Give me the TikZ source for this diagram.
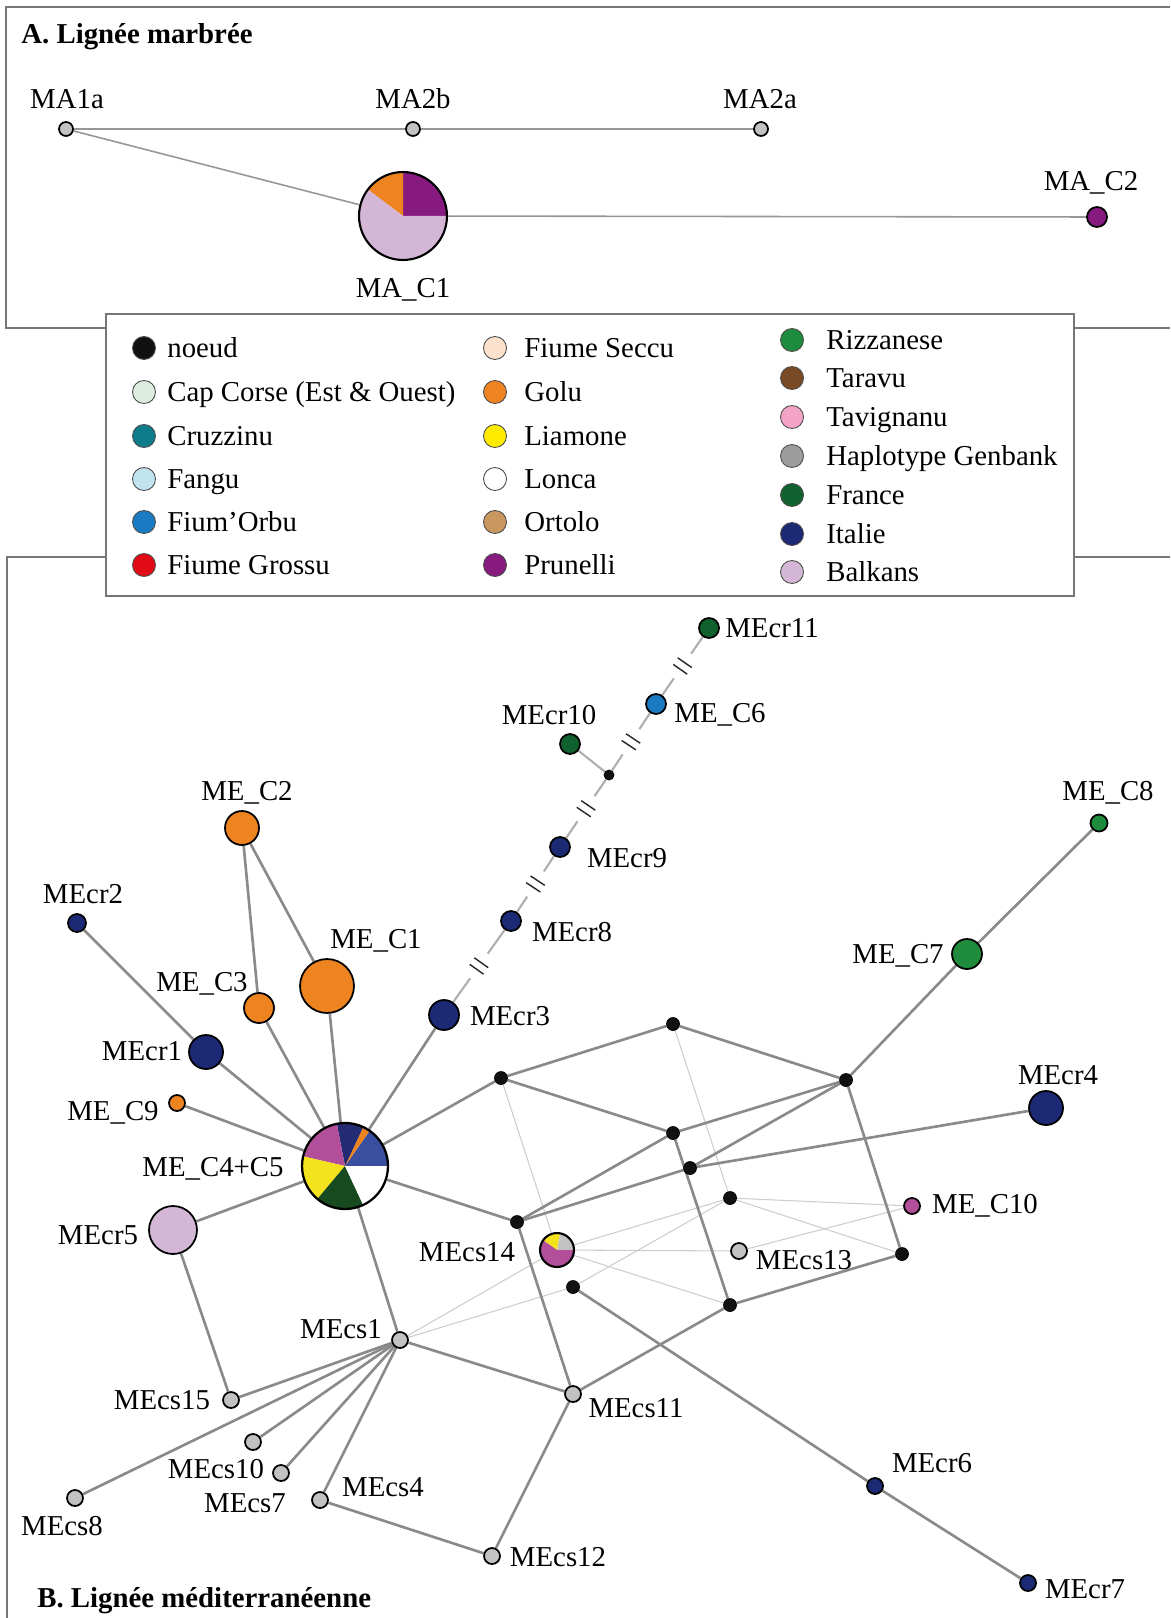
\documentclass[tikz,border=0pt]{standalone}
\usepackage{fontspec}
\setmainfont{Liberation Serif}
\usetikzlibrary{backgrounds,decorations.markings}

\definecolor{framegray}{HTML}{767676}
\definecolor{edgegray}{HTML}{8A8A8A}
\definecolor{lightedge}{HTML}{CDCDCD}
\definecolor{chaingray}{HTML}{AEAEAE}
\definecolor{hapgray}{HTML}{C2C2C2}
\definecolor{cnoeud}{HTML}{111111}
\definecolor{capcorse}{HTML}{DDEDDF}
\definecolor{cruzzinu}{HTML}{0E7C8A}
\definecolor{fangu}{HTML}{C2E4EF}
\definecolor{fiumorbu}{HTML}{1A7AC4}
\definecolor{grossu}{HTML}{E30A17}
\definecolor{seccu}{HTML}{FCE2CC}
\definecolor{golu}{HTML}{EE8420}
\definecolor{liamone}{HTML}{FFEA00}
\definecolor{ortolo}{HTML}{C9975F}
\definecolor{prunelli}{HTML}{861A7E}
\definecolor{rizzanese}{HTML}{1E8C3C}
\definecolor{taravu}{HTML}{7A4A24}
\definecolor{tavignanu}{HTML}{F2A3C6}
\definecolor{genbank}{HTML}{9C9C9C}
\definecolor{france}{HTML}{10612E}
\definecolor{italie}{HTML}{1C2A76}
\definecolor{balkans}{HTML}{D4B6D6}
\definecolor{piemag}{HTML}{B24E9A}
\definecolor{pieblue}{HTML}{3A4FA0}
\definecolor{pienavy}{HTML}{232C72}
\definecolor{pieyellow}{HTML}{F3E21C}
\definecolor{piegreen}{HTML}{174A1E}

\newcommand{\pieslice}[5]{\fill[#5] #1 -- ++(#3:#2) arc[start angle=#3, end angle=#4, radius=#2] -- cycle;}

\tikzset{
  hap/.style={circle, draw=black, line width=1pt, inner sep=0pt, minimum size=#1*0.04cm},
  med/.style={circle, draw=black, fill=cnoeud, inner sep=0pt, minimum size=0.26cm},
  legdot/.style={circle, draw=black!70, line width=0.5pt, inner sep=0pt, minimum size=0.46cm},
  legtxt/.style={anchor=west, inner sep=0pt, text height=10.9pt, text depth=0pt},
  lbl/.style={inner sep=0pt, text height=10.9pt, text depth=0pt},
  alink/.style={draw=edgegray!90, line width=0.9pt},
  link/.style={draw=edgegray, line width=1.5pt},
  faint/.style={draw=lightedge, line width=0.6pt},
  chain/.style={draw=chaingray, line width=1.2pt},
  cut/.style={postaction={decorate}, decoration={markings, mark=at position 0.5 with {
      \fill[white] (-0.3cm,-0.06cm) rectangle (0.3cm,0.06cm);
      \draw[black!85, line width=0.8pt] (-0.08cm,-0.17cm) -- (-0.08cm,0.17cm) (0.08cm,-0.17cm) -- (0.08cm,0.17cm);}}}
}

\begin{document}
\begin{tikzpicture}[x=0.02cm, y=-0.02cm, font=\fontsize{16.4}{19.7}\selectfont]
\useasboundingbox (0,0) rectangle (1170,1618);

% frames of the two panels
\draw[framegray, line width=0.8pt] (1170,7) -- (6,7) -- (6,328) -- (1170,328);
\draw[framegray, line width=0.8pt] (1170,557) -- (7,557) -- (7,1618);

% A. lignee marbree
\node[anchor=west, font=\fontsize{16.4}{19.7}\selectfont\bfseries, inner sep=0pt, text height=10.9pt, text depth=0pt] (titleA) at (21,34) {A. Lignée marbrée};
\node[hap=7, fill=hapgray] (ma1a) at (66,129) {};
\node[hap=7, fill=hapgray] (ma2b) at (413,129) {};
\node[hap=7, fill=hapgray] (ma2a) at (761,129) {};
\node[hap=10, fill=prunelli] (mac2) at (1097,217) {};
\pieslice{(403,216)}{0.88cm}{0}{90}{prunelli}
\pieslice{(403,216)}{0.88cm}{90}{143}{golu}
\pieslice{(403,216)}{0.88cm}{143}{360}{balkans}
\node[hap=44, line width=1.2pt] (mac1) at (403,216) {};
\node[lbl] (tma1a) at (67,99) {MA1a};
\node[lbl] (tma2b) at (413,99) {MA2b};
\node[lbl] (tma2a) at (760,99) {MA2a};
\node[lbl] (tmac2) at (1091,181) {MA\_C2};
\node[lbl] (tmac1) at (403,288) {MA\_C1};

% legend
\draw[framegray, fill=white, line width=0.8pt] (106,314) rectangle (1074,596);
\node[legdot, fill=cnoeud] (l1) at (144,348) {};
\node[legtxt] (lt1) at (167,348) {noeud};
\node[legdot, fill=capcorse] (l2) at (144,392) {};
\node[legtxt] (lt2) at (167,392) {Cap Corse (Est \& Ouest)};
\node[legdot, fill=cruzzinu] (l3) at (144,436) {};
\node[legtxt] (lt3) at (167,436) {Cruzzinu};
\node[legdot, fill=fangu] (l4) at (144,479) {};
\node[legtxt] (lt4) at (167,479) {Fangu};
\node[legdot, fill=fiumorbu] (l5) at (144,522) {};
\node[legtxt] (lt5) at (167,522) {Fium’Orbu};
\node[legdot, fill=grossu] (l6) at (144,565) {};
\node[legtxt] (lt6) at (167,565) {Fiume Grossu};
\node[legdot, fill=seccu] (l7) at (495,348) {};
\node[legtxt] (lt7) at (524,348) {Fiume Seccu};
\node[legdot, fill=golu] (l8) at (495,392) {};
\node[legtxt] (lt8) at (524,392) {Golu};
\node[legdot, fill=liamone] (l9) at (495,436) {};
\node[legtxt] (lt9) at (524,436) {Liamone};
\node[legdot, fill=white] (l10) at (495,479) {};
\node[legtxt] (lt10) at (524,479) {Lonca};
\node[legdot, fill=ortolo] (l11) at (495,522) {};
\node[legtxt] (lt11) at (524,522) {Ortolo};
\node[legdot, fill=prunelli] (l12) at (495,565) {};
\node[legtxt] (lt12) at (524,565) {Prunelli};
\node[legdot, fill=rizzanese] (l13) at (792,340) {};
\node[legtxt] (lt13) at (826,340) {Rizzanese};
\node[legdot, fill=taravu] (l14) at (792,378) {};
\node[legtxt] (lt14) at (826,378) {Taravu};
\node[legdot, fill=tavignanu] (l15) at (792,417) {};
\node[legtxt] (lt15) at (826,417) {Tavignanu};
\node[legdot, fill=genbank] (l16) at (792,456) {};
\node[legtxt] (lt16) at (826,456) {Haplotype Genbank};
\node[legdot, fill=france] (l17) at (792,495) {};
\node[legtxt] (lt17) at (826,495) {France};
\node[legdot, fill=italie] (l18) at (792,534) {};
\node[legtxt] (lt18) at (826,534) {Italie};
\node[legdot, fill=balkans] (l19) at (792,572) {};
\node[legtxt] (lt19) at (826,572) {Balkans};

% B. lignee mediterraneenne
\node[anchor=west, font=\fontsize{16.4}{19.7}\selectfont\bfseries, inner sep=0pt, text height=10.9pt, text depth=0pt] (titleB) at (37,1598) {B. Lignée méditerranéenne};

\node[hap=17, fill=golu] (mec2) at (242,828) {};
\node[hap=27, fill=golu] (mec1) at (327,986) {};
\node[hap=15, fill=golu] (mec3) at (259,1008) {};
\node[hap=8, fill=golu] (mec9) at (177,1103) {};
\node[hap=9, fill=italie] (mecr2) at (77,923) {};
\node[hap=17, fill=italie] (mecr1) at (206,1052) {};
\node[hap=15, fill=italie] (mecr3) at (444,1015) {};
\node[hap=24, fill=balkans] (mecr5) at (173,1230) {};
\node[hap=17, fill=italie] (mecr4) at (1046,1108) {};
\node[hap=15, fill=rizzanese] (mec7) at (967,954) {};
\node[hap=8.5, fill=rizzanese] (mec8) at (1099,823) {};
\node[hap=8, fill=piemag] (mec10) at (912,1206) {};
\node[hap=8, fill=italie] (mecr6) at (875,1486) {};
\node[hap=8, fill=italie] (mecr7) at (1028,1583) {};
\node[hap=10, fill=italie] (mecr8) at (511,921) {};
\node[hap=10, fill=italie] (mecr9) at (560,847) {};
\node[hap=10, fill=france] (mecr10) at (570,744) {};
\node[hap=10, fill=fiumorbu] (mec6) at (656,704) {};
\node[hap=10, fill=france] (mecr11) at (709,628) {};
\node[hap=8, fill=hapgray] (mecs1) at (400,1340) {};
\node[hap=8, fill=hapgray] (mecs15) at (231,1400) {};
\node[hap=8, fill=hapgray] (mecs10) at (253,1442) {};
\node[hap=8, fill=hapgray] (mecs7) at (281,1473) {};
\node[hap=8, fill=hapgray] (mecs4) at (320,1500) {};
\node[hap=8, fill=hapgray] (mecs8) at (75,1498) {};
\node[hap=8, fill=hapgray] (mecs11) at (573,1394) {};
\node[hap=8, fill=hapgray] (mecs12) at (492,1556) {};
\node[hap=8, fill=hapgray] (mecs13) at (739,1251) {};

% pies
\pieslice{(345,1166)}{0.86cm}{0}{55}{pieblue}
\pieslice{(345,1166)}{0.86cm}{55}{65}{golu}
\pieslice{(345,1166)}{0.86cm}{65}{101}{pienavy}
\pieslice{(345,1166)}{0.86cm}{101}{167}{piemag}
\pieslice{(345,1166)}{0.86cm}{167}{230}{pieyellow}
\pieslice{(345,1166)}{0.86cm}{230}{295}{piegreen}
\pieslice{(345,1166)}{0.86cm}{295}{360}{white}
\node[hap=43, line width=1.3pt] (me45) at (345,1166) {};
\pieslice{(557,1250)}{0.34cm}{0}{80}{hapgray}
\pieslice{(557,1250)}{0.34cm}{80}{145}{pieyellow}
\pieslice{(557,1250)}{0.34cm}{145}{360}{piemag}
\node[hap=17, line width=1.2pt] (mecs14) at (557,1250) {};

% median vectors
\node[med] (n1) at (501,1078) {};
\node[med] (n2) at (673,1024) {};
\node[med] (n3) at (846,1080) {};
\node[med] (n4) at (673,1133) {};
\node[med] (n5) at (690,1168) {};
\node[med] (n6) at (730,1198) {};
\node[med] (n7) at (517,1222) {};
\node[med] (n8) at (573,1287) {};
\node[med] (n9) at (730,1305) {};
\node[med] (n10) at (902,1254) {};
\node[med, minimum size=0.2cm] (nc) at (609,775) {};

% labels
\node[lbl] (tmec2) at (247,791) {ME\_C2};
\node[lbl] (tmec1) at (376,939) {ME\_C1};
\node[lbl] (tmec3) at (202,982) {ME\_C3};
\node[lbl] (tmecr2) at (83,894) {MEcr2};
\node[lbl] (tmecr1) at (142,1051) {MEcr1};
\node[lbl] (tmec9) at (113,1111) {ME\_C9};
\node[lbl] (tme45) at (213,1167) {ME\_C4+C5};
\node[lbl] (tmecr5) at (98,1235) {MEcr5};
\node[lbl] (tmecr3) at (510,1016) {MEcr3};
\node[lbl] (tmecr8) at (572,932) {MEcr8};
\node[lbl] (tmecr9) at (627,858) {MEcr9};
\node[lbl] (tmecr10) at (549,715) {MEcr10};
\node[lbl] (tmec6) at (720,713) {ME\_C6};
\node[lbl] (tmecr11) at (772,628) {MEcr11};
\node[lbl] (tmec8) at (1108,791) {ME\_C8};
\node[lbl] (tmec7) at (898,954) {ME\_C7};
\node[lbl] (tmecr4) at (1058,1075) {MEcr4};
\node[lbl] (tmec10) at (985,1204) {ME\_C10};
\node[lbl] (tmecs13) at (804,1260) {MEcs13};
\node[lbl] (tmecs14) at (467,1252) {MEcs14};
\node[lbl] (tmecs1) at (341,1329) {MEcs1};
\node[lbl] (tmecs15) at (162,1400) {MEcs15};
\node[lbl] (tmecs10) at (216,1469) {MEcs10};
\node[lbl] (tmecs7) at (245,1503) {MEcs7};
\node[lbl] (tmecs4) at (383,1487) {MEcs4};
\node[lbl] (tmecs8) at (62,1526) {MEcs8};
\node[lbl] (tmecs12) at (558,1557) {MEcs12};
\node[lbl] (tmecs11) at (636,1408) {MEcs11};
\node[lbl] (tmecr6) at (932,1463) {MEcr6};
\node[lbl] (tmecr7) at (1085,1589) {MEcr7};

\begin{pgfonlayer}{background}
% panel A links
\draw[alink] (ma1a) -- (ma2b);
\draw[alink] (ma2b) -- (ma2a);
\draw[alink] (ma1a) -- (mac1);
\draw[alink] (mac1) -- (mac2);

% faint alternative links
\draw[faint] (n1) -- (mecs14);
\draw[faint] (n2) -- (n6);
\draw[faint] (n6) -- (mec10);
\draw[faint] (n6) -- (n10);
\draw[faint] (mecs14) -- (n6);
\draw[faint] (mecs14) -- (mecs13);
\draw[faint] (mecs14) -- (n9);
\draw[faint] (n8) -- (n6);
\draw[faint] (mecs1) -- (mecs14);
\draw[faint] (mecs1) -- (n8);
\draw[faint] (mecs13) -- (mec10);

% main links
\draw[link] (me45) -- (mec1);
\draw[link] (me45) -- (mec3);
\draw[link] (me45) -- (mecr1);
\draw[link] (me45) -- (mec9);
\draw[link] (me45) -- (mecr5);
\draw[link] (me45) -- (mecs1);
\draw[link] (me45) -- (n1);
\draw[link] (me45) -- (n7);
\draw[link] (me45) -- (mecr3);
\draw[link] (mec2) -- (mec3);
\draw[link] (mec2) -- (mec1);
\draw[link] (mecr2) -- (mecr1);
\draw[link] (mecr5) -- (mecs15);
\draw[link] (mecs1) -- (mecs15);
\draw[link] (mecs1) -- (mecs8);
\draw[link] (mecs1) -- (mecs10);
\draw[link] (mecs1) -- (mecs7);
\draw[link] (mecs1) -- (mecs4);
\draw[link] (mecs1) -- (mecs11);
\draw[link] (mecs4) -- (mecs12);
\draw[link] (mecs12) -- (mecs11);
\draw[link] (mecs11) -- (n7);
\draw[link] (mecs11) -- (n9);
\draw[link] (n1) -- (n2);
\draw[link] (n2) -- (n3);
\draw[link] (n1) -- (n4);
\draw[link] (n4) -- (n3);
\draw[link] (n4) -- (n7);
\draw[link] (n4) -- (n9);
\draw[link] (n5) -- (n3);
\draw[link] (n5) -- (n7);
\draw[link] (n5) -- (mecr4);
\draw[link] (n3) -- (mec7);
\draw[link] (mec7) -- (mec8);
\draw[link] (n3) -- (n10);
\draw[link] (n10) -- (n9);
\draw[link] (n8) -- (mecr6);
\draw[link] (mecr6) -- (mecr7);

% long branch, cut
\draw[chain, cut] (mecr3) -- (mecr8);
\draw[chain, cut] (mecr8) -- (mecr9);
\draw[chain, cut] (mecr9) -- (nc);
\draw[chain, cut] (nc) -- (mec6);
\draw[chain, cut] (mec6) -- (mecr11);
\draw[chain] (mecr10) -- (nc);
\end{pgfonlayer}
\end{tikzpicture}
\end{document}
